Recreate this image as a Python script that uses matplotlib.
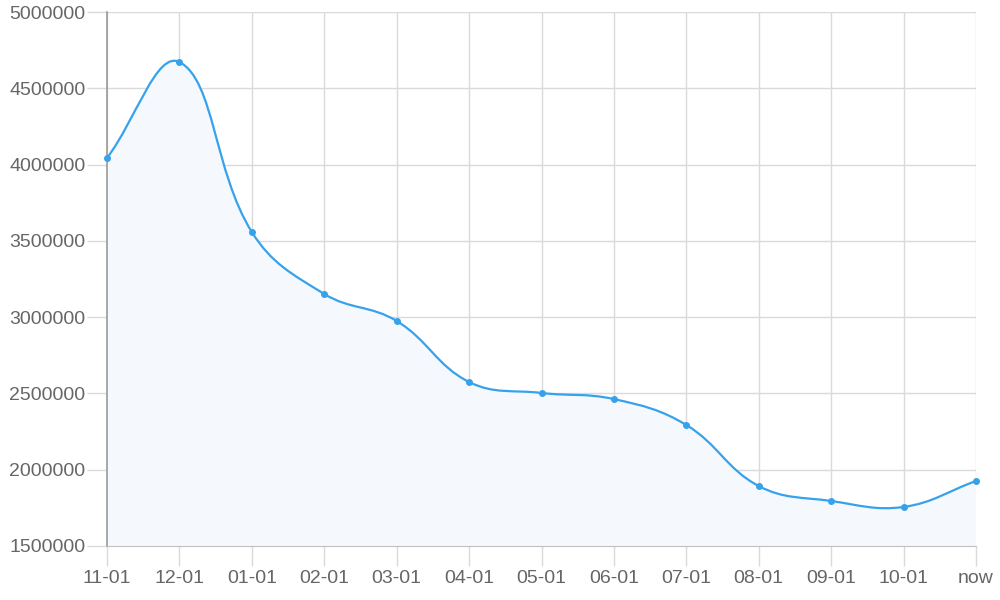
import numpy as np
import matplotlib
matplotlib.use("Agg")
import matplotlib.pyplot as plt
from matplotlib.path import Path
from matplotlib.patches import PathPatch

labels = ["11-01", "12-01", "01-01", "02-01", "03-01", "04-01", "05-01",
          "06-01", "07-01", "08-01", "09-01", "10-01", "now"]
values = [4043000, 4672000, 3558000, 3152000, 2975000, 2575000, 2503000,
          2463000, 2293000, 1893000, 1795000, 1756000, 1926000]
yticks = [1500000, 2000000, 2500000, 3000000, 3500000, 4000000, 4500000, 5000000]

line_color = "#36A2EB"
text_color = "#666666"
grid_color = "#dadada"

plt.rcParams["font.family"] = ["Liberation Sans", "DejaVu Sans"]

fig = plt.figure(figsize=(10, 6), dpi=100)
ax = fig.add_axes([0.107, 1 - 546 / 600, 0.869, 534 / 600])
ax.set_xlim(0, len(labels) - 1)
ax.set_ylim(yticks[0], yticks[-1])

# Chart.js-like bezier spline (tension 0.4), computed in pixel space
x = np.arange(len(values), dtype=float)
pts = ax.transData.transform(np.column_stack([x, values]))
tension = 0.4
n = len(pts)
cps = []
for i in range(n):
    prev = pts[i - 1] if i > 0 else pts[i]
    cur = pts[i]
    nxt = pts[i + 1] if i < n - 1 else pts[i]
    d01 = np.hypot(*(cur - prev))
    d12 = np.hypot(*(nxt - cur))
    tot = d01 + d12
    s01 = d01 / tot if tot else 0
    s12 = d12 / tot if tot else 0
    cps.append((cur - tension * s01 * (nxt - prev), cur + tension * s12 * (nxt - prev)))

verts = [pts[0]]
codes = [Path.MOVETO]
for i in range(n - 1):
    verts += [cps[i][1], cps[i + 1][0], pts[i + 1]]
    codes += [Path.CURVE4] * 3
inv = ax.transData.inverted()
verts_d = inv.transform(np.array(verts))

line_path = Path(verts_d, codes)
fill_verts = list(verts_d) + [(x[-1], yticks[0]), (x[0], yticks[0]), verts_d[0]]
fill_codes = codes + [Path.LINETO, Path.LINETO, Path.CLOSEPOLY]
ax.add_patch(PathPatch(Path(fill_verts, fill_codes), facecolor="#f5f9fe",
                       edgecolor="none", zorder=1))
ax.add_patch(PathPatch(line_path, facecolor="none", edgecolor=line_color,
                       lw=1.6, zorder=3))
ax.plot(x, values, "o", color=line_color, ms=4, zorder=4, clip_on=False)

ax.set_xticks(x)
ax.set_xticklabels(labels)
ax.set_yticks(yticks)
ax.set_yticklabels([str(v) for v in yticks])
ax.grid(True, color=grid_color, lw=1, zorder=0)
ax.set_axisbelow(True)
ax.tick_params(axis="both", colors=grid_color, labelcolor=text_color,
               labelsize=14, length=14.4, width=1)
ax.tick_params(axis="x", pad=3)
ax.tick_params(axis="y", pad=1)
for s in ["top", "right"]:
    ax.spines[s].set_visible(False)
ax.spines["left"].set_color("#9a9a9a")
ax.spines["left"].set_linewidth(1.2)
ax.spines["bottom"].set_color("#c0c0c0")
ax.set_facecolor("white")

fig.savefig("out.png", dpi=100)
